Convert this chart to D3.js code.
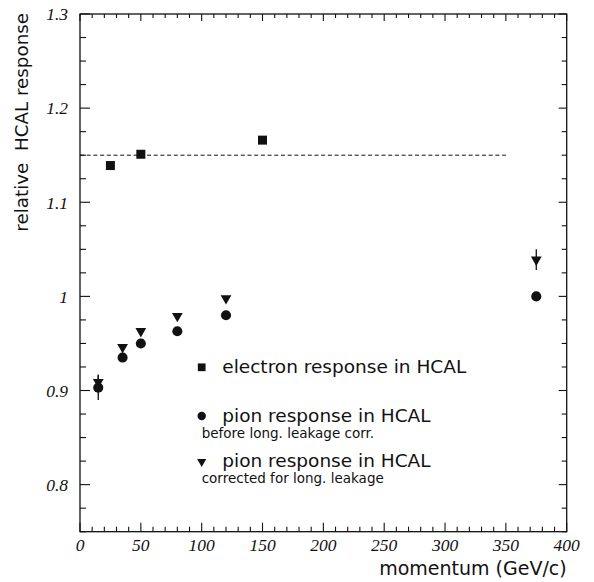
<!DOCTYPE html>
<html><head><meta charset="utf-8">
<script src="https://cdn.jsdelivr.net/npm/d3@7/dist/d3.min.js"></script>
<style>
body{margin:0;background:#fff;}
svg{display:block;}
.tl{font-family:"Liberation Serif","Times New Roman",Times,serif;font-style:italic;font-size:17.5px;}
</style></head>
<body>
<script>
// ---- data ----
const electronP = [25, 50, 150];
const electronR = [1.139, 1.151, 1.166];
const pionP = [15, 35, 50, 80, 120, 375];
const pionR = [0.903, 0.935, 0.950, 0.963, 0.980, 1.000];
const pionErr = [0.013, 0, 0, 0, 0, 0];
const pionCorrR = [0.909, 0.946, 0.963, 0.979, 0.998, 1.039];
const pionCorrErr = [0.008, 0, 0, 0, 0, 0.011];
const electronLineY = 1.15;
const electronLineX = [0, 350];
const xTicks = [0, 50, 100, 150, 200, 250, 300, 350, 400];
const yTicks = [0.8, 0.9, 1, 1.1, 1.2, 1.3];
const yTickLabels = ["0.8", "0.9", "1", "1.1", "1.2", "1.3"];
const legendLabels = ["electron response in HCAL", "pion response in HCAL", "pion response in HCAL"];
const legendSub = ["", "before long. leakage corr.", "corrected for long. leakage"];

const W = 594, H = 582;
const m = {left: 80, top: 14, right: 27.3, bottom: 50.3};
const svg = d3.select("body").append("svg").attr("width", W).attr("height", H);

const x = d3.scaleLinear().domain([0, 400]).range([m.left, W - m.right]);
const y = d3.scaleLinear().domain([0.75, 1.3]).range([H - m.bottom, m.top]);

const col = "#111";
const sans = "'DejaVu Sans', sans-serif";

// frame
svg.append("rect").attr("x", x(0)).attr("y", y(1.3))
  .attr("width", x(400) - x(0)).attr("height", y(0.75) - y(1.3))
  .attr("fill", "none").attr("stroke", col).attr("stroke-width", 1.3);

// ticks (inward)
const xMinor = d3.range(0, 401, 10);
const yMinor = d3.range(0.75, 1.3001, 0.025).map(v => +v.toFixed(3));
const isMajX = v => v % 50 === 0;
const isMajY = v => Math.abs(v * 10 - Math.round(v * 10)) < 1e-6;
const tk = svg.append("g").attr("stroke", col).attr("stroke-width", 1.1);
xMinor.forEach(v => {
  const L = isMajX(v) ? 9 : 5;
  tk.append("line").attr("x1", x(v)).attr("x2", x(v)).attr("y1", y(0.75)).attr("y2", y(0.75) - L);
  tk.append("line").attr("x1", x(v)).attr("x2", x(v)).attr("y1", y(1.3)).attr("y2", y(1.3) + (isMajX(v) ? 7 : 4));
});
yMinor.forEach(v => {
  const L = isMajY(v) ? 10 : 6;
  tk.append("line").attr("x1", x(0)).attr("x2", x(0) + L).attr("y1", y(v)).attr("y2", y(v));
  tk.append("line").attr("x1", x(400)).attr("x2", x(400) - (isMajY(v) ? 8 : 5)).attr("y1", y(v)).attr("y2", y(v));
});

// tick labels
svg.append("g").selectAll("text").data(xTicks).join("text").attr("class", "tl")
  .attr("x", d => x(d)).attr("y", y(0.75) + 19)
  .attr("text-anchor", "middle").attr("fill", col).text(d => d);
svg.append("g").selectAll("text").data(yTicks).join("text").attr("class", "tl")
  .attr("x", x(0) - 12).attr("y", d => y(d)).attr("dy", "0.36em")
  .attr("text-anchor", "end").attr("fill", col).text((d, i) => yTickLabels[i]);

// axis titles
svg.append("text").attr("x", x(400)).attr("y", 575).attr("text-anchor", "end")
  .attr("font-family", sans).attr("font-size", 19).attr("fill", col).text("momentum (GeV/c)");
svg.append("text").attr("transform", `translate(28,${y(1.3) - 1}) rotate(-90)`).attr("text-anchor", "end")
  .attr("font-family", sans).attr("font-size", 18.3).attr("fill", col)
  .attr("xml:space", "preserve").style("white-space", "pre").text("relative  HCAL response");

// dashed line
svg.append("line").attr("x1", x(electronLineX[0])).attr("x2", x(electronLineX[1]))
  .attr("y1", y(electronLineY)).attr("y2", y(electronLineY))
  .attr("stroke", col).attr("stroke-width", 1).attr("stroke-dasharray", "4,2.7");

// error bars
const eb = svg.append("g").attr("stroke", col).attr("stroke-width", 1.3);
pionP.forEach((p, i) => {
  if (pionErr[i] > 0) eb.append("line").attr("x1", x(p)).attr("x2", x(p))
    .attr("y1", y(pionR[i] - pionErr[i])).attr("y2", y(pionR[i] + pionErr[i]));
  if (pionCorrErr[i] > 0) eb.append("line").attr("x1", x(p)).attr("x2", x(p))
    .attr("y1", y(pionCorrR[i] - pionCorrErr[i])).attr("y2", y(pionCorrR[i] + pionCorrErr[i]));
});

// markers
const sq = d3.symbol().type(d3.symbolSquare).size(81);
const ci = d3.symbol().type(d3.symbolCircle).size(80);
const tr = d3.symbol().type(d3.symbolTriangle).size(50);
svg.append("g").selectAll("path").data(electronP).join("path")
  .attr("transform", (d, i) => `translate(${x(d)},${y(electronR[i])})`).attr("d", sq).attr("fill", col);
svg.append("g").selectAll("path").data(pionP).join("path")
  .attr("transform", (d, i) => `translate(${x(d)},${y(pionR[i])})`).attr("d", ci).attr("fill", col);
svg.append("g").selectAll("path").data(pionP).join("path")
  .attr("transform", (d, i) => `translate(${x(d)},${y(pionCorrR[i])}) rotate(180)`).attr("d", tr).attr("fill", col);

// legend
const lgX = 201.7, lgTextX = 222.3;
const lgY = [367.3, 416, 461.7];
const lgBase = [373.3, 421.7, 467];
const subBase = [0, 437.7, 483.3];
const lgSym = [d3.symbol().type(d3.symbolSquare).size(60), d3.symbol().type(d3.symbolCircle).size(56), d3.symbol().type(d3.symbolTriangle).size(36)];
const lg = svg.append("g");
legendLabels.forEach((t, i) => {
  lg.append("path").attr("d", lgSym[i])
    .attr("transform", `translate(${lgX},${lgY[i]})${i === 2 ? " rotate(180)" : ""}`).attr("fill", col);
  lg.append("text").attr("x", lgTextX).attr("y", lgBase[i]).attr("font-family", sans)
    .attr("font-size", 18.5).attr("fill", col).text(t);
  if (legendSub[i]) lg.append("text").attr("x", lgX).attr("y", subBase[i]).attr("font-family", sans)
    .attr("font-size", 13.5).attr("fill", col).text(legendSub[i]);
});
</script>
</body></html>
